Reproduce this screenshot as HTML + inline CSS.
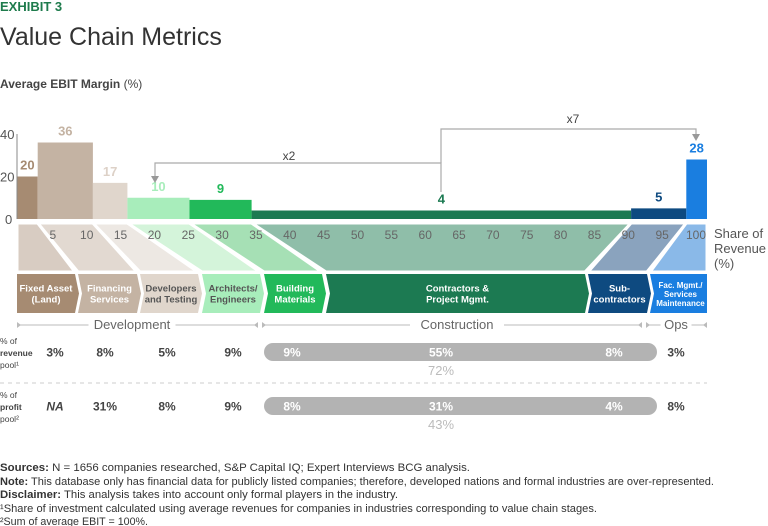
<!DOCTYPE html>
<html><head><meta charset="utf-8"><style>
body{margin:0;background:#fff;}
svg{display:block;font-family:"Liberation Sans",sans-serif;}
</style></head><body>
<svg width="768" height="526" viewBox="0 0 768 526">
<text x="0" y="11" font-size="13" font-weight="bold" fill="#1e7b4c">EXHIBIT 3</text>
<text x="0" y="45" font-size="25" fill="#333">Value Chain Metrics</text>
<text x="0" y="88" font-size="12" fill="#444"><tspan font-weight="bold">Average EBIT Margin</tspan> (%)</text>
<g id="chart"></g>
<g id="notes" font-size="11" fill="#333">
<text x="0" y="471" textLength="470" lengthAdjust="spacingAndGlyphs"><tspan font-weight="bold">Sources:</tspan> N = 1656 companies researched, S&amp;P Capital IQ; Expert Interviews BCG analysis.</text>
<text x="0" y="485" textLength="714" lengthAdjust="spacingAndGlyphs"><tspan font-weight="bold">Note:</tspan> This database only has financial data for publicly listed companies; therefore, developed nations and formal industries are over-represented.</text>
<text x="0" y="498" textLength="398" lengthAdjust="spacingAndGlyphs"><tspan font-weight="bold">Disclaimer:</tspan> This analysis takes into account only formal players in the industry.</text>
<text x="0" y="512" textLength="597" lengthAdjust="spacingAndGlyphs">¹Share of investment calculated using average revenues for companies in industries corresponding to value chain stages.</text>
<text x="0" y="525" textLength="148" lengthAdjust="spacingAndGlyphs">²Sum of average EBIT = 100%.</text>
</g>
</svg>
<script>
const categories=["Fixed Asset (Land)","Financing Services","Developers and Testing","Architects/ Engineers","Building Materials","Contractors & Project Mgmt.","Sub- contractors","Fac. Mgmt./ Services Maintenance"];
const revenueShare=[3,8,5,9,9,55,8,3];
const ebitMargin=[20,36,17,10,9,4,5,28];
const profitShare=["NA","31%","8%","9%","8%","31%","4%","8%"];
const yTicks=[0,20,40];
const xTicks=[5,10,15,20,25,30,35,40,45,50,55,60,65,70,75,80,85,90,95,100];

const NS="http://www.w3.org/2000/svg";
const g=document.getElementById('chart');
function el(tag,attrs,parent){const e=document.createElementNS(NS,tag);for(const k in attrs)e.setAttribute(k,attrs[k]);(parent||g).appendChild(e);return e;}
const X=v=>17+v*6.9;
const Y=v=>219-v*2.125;
const barCol=["#a68b72","#c4b3a3","#e0d6cc","#a8edbb","#22b95a","#1c7a52","#0e4a80","#1a7ee0"];
const lblCol=["#a68b72","#c4b3a3","#ddd1c7","#a8edbb","#22b95a","#1c7a52","#0e4a80","#1a7ee0"];
const bandCol=["#d8ccc2","#e2d9d1","#ede8e3","#d4f4da","#a6e0b5","#8fbea9","#8aa3be","#8ab9e8"];
const boxes=[[17,75],[78,137],[140,198],[202,260],[264,322],[326,585],[588,647],[650,707]];
const txtDark=[false,false,true,true,false,false,false,false];

// cumulative positions
const cum=[0];revenueShare.forEach((s,i)=>cum.push(cum[i]+s));

// bars
ebitMargin.forEach((v,i)=>{
  const r=el('rect',{x:X(cum[i]),y:Y(v),width:X(cum[i+1])-X(cum[i]),height:Y(0)-Y(v),fill:barCol[i]});
  
  
  const t=el('text',{x:(X(cum[i])+X(cum[i+1]))/2,y:Y(v)-7,'text-anchor':'middle','font-size':13,'font-weight':'bold',fill:lblCol[i]});
  t.textContent=v;
  
  
});
// y axis
el('line',{x1:17,y1:Y(40),x2:17,y2:Y(0),stroke:'#888','stroke-width':1});
yTicks.forEach(v=>{
  const t=el('text',{x:v===0?5:0,y:Y(v)+5,'font-size':13,fill:'#555'});
  t.textContent=v;
  
  
});
// bands
revenueShare.forEach((s,i)=>{
  const p=el('polygon',{points:`${X(cum[i])},223 ${X(cum[i+1])},223 ${boxes[i][1]},272 ${boxes[i][0]},272`,fill:bandCol[i],stroke:'#fff','stroke-width':3});
  
  
});
// x ticks
xTicks.forEach(v=>{
  const t=el('text',{x:19+v*6.77,y:239,'text-anchor':'middle','font-size':12,fill:'#666'});
  t.textContent=v;
  
  
});
['Share of','Revenue','(%)'].forEach((s,k)=>{
  const t=el('text',{x:714,y:238+k*15,'font-size':13,fill:'#555'});
  t.textContent=s;
  
  
});
// segment chevrons
boxes.forEach((b,i)=>{
  const tip=i<7?4:0;
  const notch=i>0?4:0;
  const p=el('polygon',{points:`${b[0]},274 ${b[1]},274 ${b[1]+tip},293.5 ${b[1]},313 ${b[0]},313 ${b[0]+notch},293.5`,fill:barCol[i]});
  
  
  const words=categories[i];
  let lines;
  if(i===0)lines=["Fixed Asset","(Land)"];else if(i===1)lines=["Financing","Services"];else if(i===2)lines=["Developers","and Testing"];else if(i===3)lines=["Architects/","Engineers"];else if(i===4)lines=["Building","Materials"];else if(i===5)lines=["Contractors &","Project Mgmt."];else if(i===6)lines=["Sub-","contractors"];else lines=["Fac. Mgmt./","Services","Maintenance"];
  const fs=lines.length===3?8:9.5, lh=lines.length===3?9:11;
  const cx=(b[0]+b[1])/2+(notch?2:0);
  lines.forEach((ln,k)=>{
    const t=el('text',{x:cx,y:293.5+(k-(lines.length-1)/2)*lh+3.5,'text-anchor':'middle','font-size':fs,'font-weight':'bold',fill:txtDark[i]?'#555':'#fff'});
    t.textContent=ln;
    
    
  });
});
// annotations
el('path',{d:'M155,180 V163 H441 V192',fill:'none',stroke:'#aaa','stroke-width':1.2});
el('polygon',{points:'151,176 159,176 155,183',fill:'#999'});
el('path',{d:'M441,163 V129 H696 V136',fill:'none',stroke:'#aaa','stroke-width':1.2});
el('polygon',{points:'692,134 700,134 696,141',fill:'#999'});
[['x2',289,160],['x7',573,123]].forEach(a=>{const t=el('text',{x:a[1],y:a[2],'text-anchor':'middle','font-size':12,fill:'#444'});t.textContent=a[0];});
// phase lines
[[17,258,'Development',132],[262,642,'Construction',457],[646,707,'Ops',676]].forEach(ph=>{
  el('line',{x1:ph[0],y1:325,x2:ph[1],y2:325,stroke:'#bbb','stroke-width':1});
  el('polygon',{points:`${ph[0]},322 ${ph[0]+4},325 ${ph[0]},328`,fill:'#bbb'});
  el('polygon',{points:`${ph[1]},322 ${ph[1]-4},325 ${ph[1]},328`,fill:'#bbb'});
  const w=ph[2].length*7+10;
  el('rect',{x:ph[3]-w/2,y:316,width:w,height:18,fill:'#fff'});
  const t=el('text',{x:ph[3],y:329,'text-anchor':'middle','font-size':13,fill:'#666'});
  t.textContent=ph[2];
  
  
});
// rows
const revLabels=revenueShare.map(v=>v+'%');
const colX=[55,105,167,233,292,441,614,676];
function row(vals,yc,total,name,labels,isNA){
  const pill=el('rect',{x:264,y:yc-9,width:393,height:18,rx:9,fill:'#b3b3b3'});
  
  
  vals.forEach((v,i)=>{
    const inPill=i>=4&&i<=6;
    const t=el('text',{x:colX[i],y:yc+4.5,'text-anchor':'middle','font-size':12,'font-weight':'bold',fill:inPill?'#fff':'#444'});
    if(v==='NA')t.setAttribute('font-style','italic');
    t.textContent=v;
    
    
  });
  const tt=el('text',{x:441,y:yc+23,'text-anchor':'middle','font-size':13,fill:'#bbb'});
  tt.textContent=total;
  
  
  labels.forEach((s,k)=>{const t=el('text',{x:0,y:yc-8+k*12,'font-size':8.5,fill:'#444','font-weight':k===1?'bold':'normal'});t.textContent=s;});
}
row(revLabels,352,'72%','revenue',['% of','revenue','pool¹']);
el('line',{x1:0,y1:383,x2:707,y2:383,stroke:'#ccc','stroke-width':1,'stroke-dasharray':'4,4'});
row(profitShare,406,'43%','profit',['% of','profit','pool²']);
</script>
</body></html>
